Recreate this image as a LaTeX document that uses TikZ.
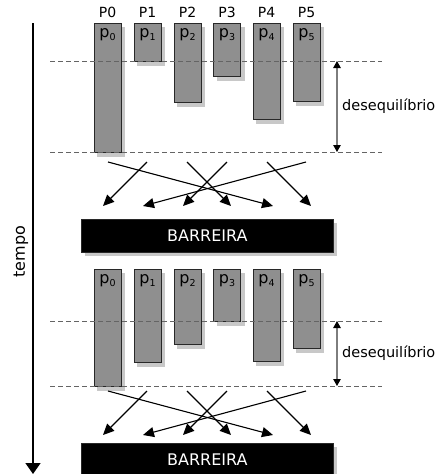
\documentclass[tikz,border=0pt]{standalone}
\usepackage{fontspec}
\setmainfont{DejaVu Sans}
\usetikzlibrary{arrows.meta,backgrounds}

\definecolor{procfill}{RGB}{143,143,143}
\definecolor{procedge}{RGB}{40,40,40}
\definecolor{shadowgray}{RGB}{200,200,200}
\definecolor{dashgray}{RGB}{100,100,100}
\definecolor{gapgray}{RGB}{125,125,125}

\newcommand{\sub}[1]{\raisebox{-3.2pt}{\fontsize{9.5}{9.5}\selectfont #1}}
% light shadow cast to the lower right of a node, on the background layer
\newcommand{\castshadow}[1]{%
  \begin{scope}[on background layer]
    \fill[shadowgray] ([xshift=3.5pt,yshift=-3.5pt]#1.south west)
      rectangle ([xshift=3.5pt,yshift=-3.5pt]#1.north east);
  \end{scope}}

\begin{document}
\begin{tikzpicture}[x=1pt,y=-1pt,
  font=\fontsize{14}{16}\selectfont,
  proc/.style={draw=procedge, fill=procfill, line width=1pt, anchor=north,
    minimum width=27pt, inner sep=0pt},
  plab/.style={inner sep=0pt, anchor=base, font=\fontsize{16}{18}\selectfont},
  level/.style={draw=dashgray, line width=0.9pt, dash pattern=on 5pt off 3pt},
  gap/.style={draw=gapgray, line width=1.1pt,
    {Triangle[length=7pt,width=7.5pt,color=black]}-{Triangle[length=7pt,width=7.5pt,color=black]}},
  msg/.style={draw=black, line width=1.1pt, -{Triangle[length=11pt,width=10pt]}},
  barrier/.style={fill=black, draw=procedge, line width=0.6pt, text=white,
    minimum width=252pt, minimum height=33pt, inner sep=0pt, anchor=north west,
    font=\fontsize{16}{18}\selectfont},
  axis/.style={draw=black, line width=1.5pt, -{Triangle[length=11pt,width=15pt]}},
  gaplab/.style={anchor=base west, inner sep=0pt, font=\fontsize{14.5}{17}\selectfont}
]
\useasboundingbox (0,0) rectangle (438,474);

% time axis
\coordinate (t0) at (33,23);
\coordinate (t1) at (33,474);
\draw[axis] (t0) -- (t1);
\node[rotate=90, font=\fontsize{16}{18}\selectfont] (tempo) at (21,251.5) {tempo};

% process names
\foreach \i/\x in {0/107.5,1/147.5,2/187.5,3/227,4/266.5,5/306.5}
  \node (P\i) at (\x,12.3) {P\i};

% ---------- first superstep ----------
\foreach \i/\x/\h in {0/107.5/129,1/147.5/38,2/187.5/79,3/227/53,4/266.5/96,5/306.5/78}{
  \node[proc, minimum height=\h pt] (a\i) at (\x,23) {};
  \castshadow{a\i}
  \node[plab] (ta\i) at (\x,37) {p\sub{\i}};
}

\draw[level] (50,61) coordinate (l1a) -- (382,61) coordinate (l1b);
\draw[level] (50,152) coordinate (l2a) -- (382,152) coordinate (l2b);

\coordinate (g1a) at (337,61);
\coordinate (g1b) at (337,152);
\draw[gap] (g1a) -- (g1b);
\node[gaplab] (d1) at (342,110) {desequilíbrio};

\foreach \i/\x in {0/108,1/147,2/187,3/227,4/267,5/306}
  \coordinate (s\i) at (\x,162);
\foreach \i/\x in {0/103,1/143,2/183,3/231,4/273,5/311}
  \coordinate (e\i) at (\x,206);
\draw[msg] (s0) -- (e4);
\draw[msg] (s1) -- (e0);
\draw[msg] (s2) -- (e3);
\draw[msg] (s3) -- (e2);
\draw[msg] (s4) -- (e5);
\draw[msg] (s5) -- (e1);

\node[barrier] (bar1) at (81,219) {BARREIRA};
\castshadow{bar1}

% ---------- second superstep ----------
\foreach \i/\x/\h in {0/107.5/117,1/147.5/93,2/187.5/75,3/227/52,4/266.5/92,5/306.5/79}{
  \node[proc, minimum height=\h pt] (b\i) at (\x,269) {};
  \castshadow{b\i}
  \node[plab] (tb\i) at (\x,283) {p\sub{\i}};
}

\draw[level] (50,321) coordinate (l3a) -- (382,321) coordinate (l3b);
\draw[level] (50,386) coordinate (l4a) -- (382,386) coordinate (l4b);

\coordinate (g2a) at (337,321);
\coordinate (g2b) at (337,386);
\draw[gap] (g2a) -- (g2b);
\node[gaplab] (d2) at (342,357) {desequilíbrio};

\foreach \i/\x in {0/108,1/147,2/187,3/227,4/267,5/306}
  \coordinate (u\i) at (\x,391);
\foreach \i/\x in {0/103,1/143,2/183,3/231,4/273,5/311}
  \coordinate (v\i) at (\x,435);
\draw[msg] (u0) -- (v4);
\draw[msg] (u1) -- (v0);
\draw[msg] (u2) -- (v3);
\draw[msg] (u3) -- (v2);
\draw[msg] (u4) -- (v5);
\draw[msg] (u5) -- (v1);

\node[barrier] (bar2) at (81,443) {BARREIRA};
\castshadow{bar2}
\end{tikzpicture}
\end{document}
